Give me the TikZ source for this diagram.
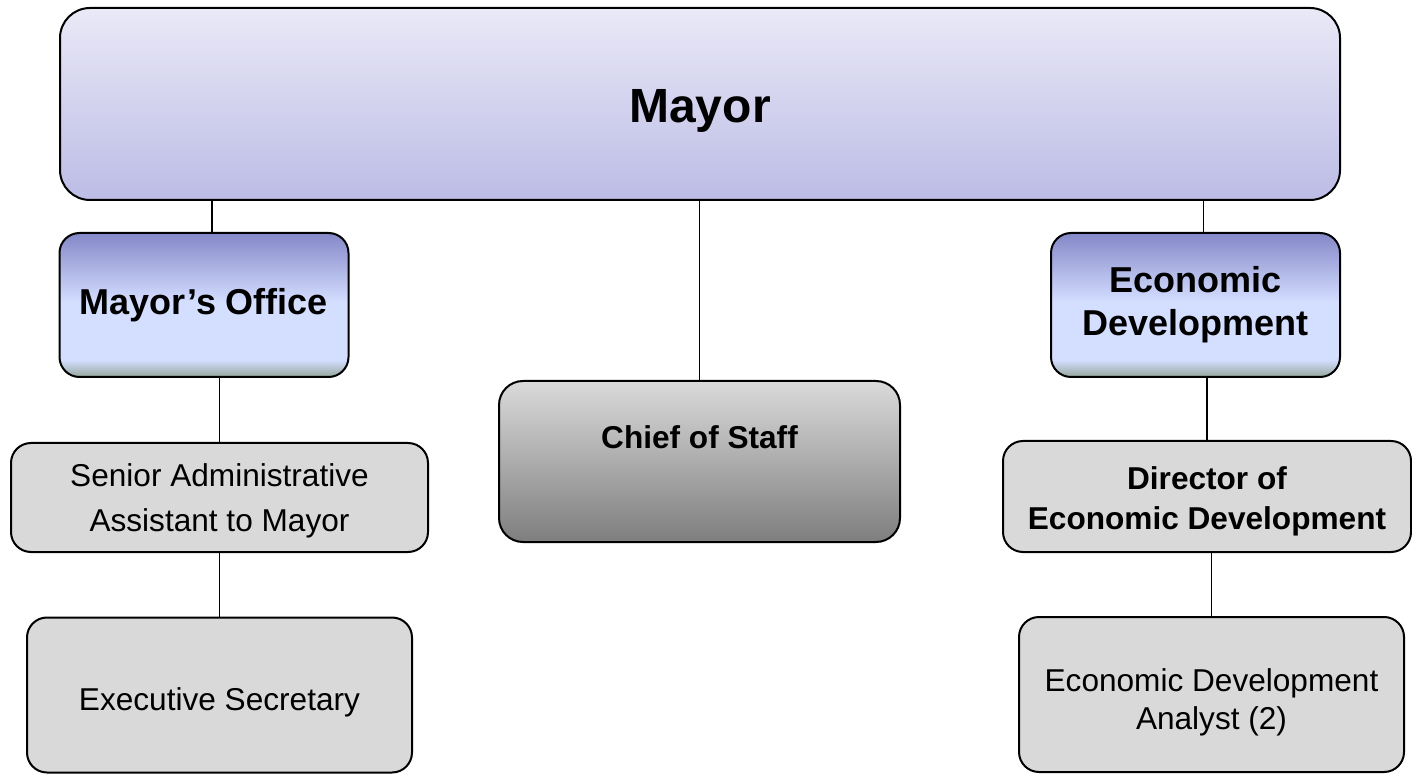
\documentclass[tikz,border=0pt]{standalone}
\usepackage{fontspec}
\setmainfont{Liberation Sans}
\usetikzlibrary{positioning}

\definecolor{mayortop}{RGB}{234,233,247}
\definecolor{mayorbot}{RGB}{188,188,230}
\definecolor{depttop}{RGB}{132,136,200}
\definecolor{deptmid}{RGB}{212,222,255}
\definecolor{deptbot}{RGB}{150,168,158}
\definecolor{chieftop}{RGB}{218,218,218}
\definecolor{chiefbot}{RGB}{126,126,126}
\definecolor{staffgray}{RGB}{217,217,217}

\pgfdeclareverticalshading{deptshade}{100bp}{color(0bp)=(deptbot); color(25bp)=(deptbot); color(31bp)=(deptmid); color(51bp)=(deptmid); color(75bp)=(depttop); color(100bp)=(depttop)}

\begin{document}
\begin{tikzpicture}[x=0.5pt, y=-0.5pt,
		box/.style={draw=black, line width=1pt, rectangle, align=center, inner sep=2pt},
		mayorbox/.style={box, rounded corners=15pt, top color=mayortop, bottom color=mayorbot,
			minimum width=640pt, minimum height=96pt, text height=20pt, text depth=1.3pt,
			font=\fontsize{24}{29}\selectfont\bfseries},
		deptbox/.style={box, rounded corners=10pt, shading=deptshade,
			minimum width=144.5pt, minimum height=72pt, font=\fontsize{18}{21.5}\selectfont\bfseries},
		chiefbox/.style={box, rounded corners=12pt, top color=chieftop, bottom color=chiefbot,
			minimum width=200.5pt, minimum height=80.5pt, text height=12pt, text depth=24.6pt,
			font=\fontsize{15.8}{20}\selectfont\bfseries},
		staffbox/.style={box, rounded corners=10pt, fill=staffgray, text height=18.5pt,
			font=\fontsize{15.8}{20}\selectfont},
		link/.style={line width=0.75pt}]
		\useasboundingbox (0,0) rectangle (1412,774);

		\node [mayorbox] (mayor) at (700,104) {Mayor};
		\node [deptbox] (office) at (204,305) {Mayor’s Office};
		\node [deptbox] (econ) at (1195.5,305) {Economic\\Development};
		\node [chiefbox] (chief) at (699.5,461.5) {Chief of Staff};
		\node [staffbox, minimum width=208.5pt, minimum height=54.5pt, text height=37.1pt] (senior) at (219.5,497.5) {Senior Administrative\\[2.5pt]Assistant to Mayor};
		\node [staffbox, minimum width=204pt, minimum height=55.5pt, text height=36.6pt, font=\fontsize{15.8}{20}\selectfont\bfseries] (director) at (1207,496.5) {Director of\\Economic Development};
		\node [staffbox, minimum width=192.5pt, minimum height=77.5pt] (secretary) at (219.5,695) {Executive Secretary};
		\node [staffbox, minimum width=192.5pt, minimum height=77.5pt, text height=38.7pt, font=\fontsize{15.8}{19.3}\selectfont] (analyst) at (1211.5,694.5) {Economic Development\\Analyst (2)};

		\draw[link]
		([xshift=4pt]office.north) -- ([xshift=4pt]office.north |- mayor.south);
		\draw[link]
		(chief.north) -- (chief.north |- mayor.south);
		\draw[link]
		([xshift=4pt]econ.north) -- ([xshift=4pt]econ.north |- mayor.south);

		\draw[link]
		(office.south -| senior.north) -- (senior.north);
		\draw[link]
		(senior.south) -- (secretary.north);
		\draw[link]
		(econ.south -| director.north) -- (director.north);
		\draw[link]
		(director.south -| analyst.north) -- (analyst.north);

		\end{tikzpicture}
\end{document}
